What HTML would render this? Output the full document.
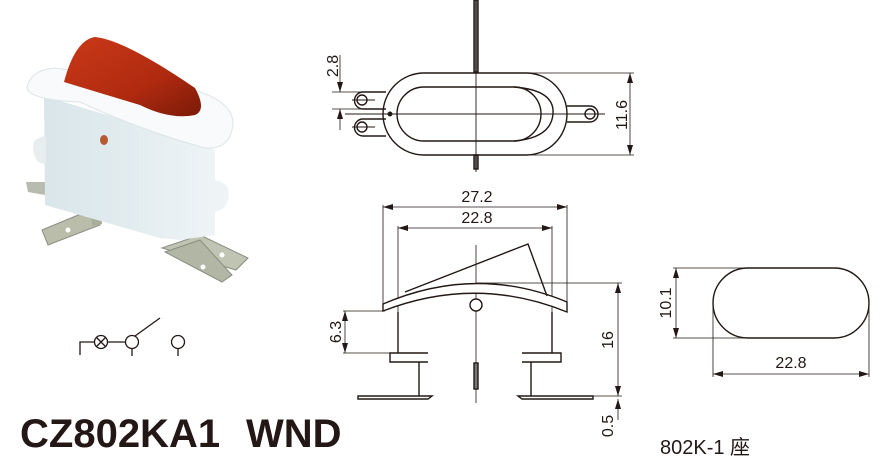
<!DOCTYPE html>
<html><head><meta charset="utf-8"><style>
html,body{margin:0;padding:0;background:#fff;}
svg{display:block;}
text{font-family:"Liberation Sans","Noto Sans CJK SC",sans-serif;fill:#231815;}
</style></head><body>
<svg width="887" height="460" viewBox="0 0 887 460" xmlns="http://www.w3.org/2000/svg">
<defs>
<marker id="a" viewBox="0 0 10 6" refX="10" refY="3" markerWidth="10" markerHeight="6" orient="auto-start-reverse" markerUnits="userSpaceOnUse"><path d="M0,0 L10,3 L0,6 z" fill="#231815"/></marker>
<linearGradient id="body" x1="0" x2="1"><stop offset="0" stop-color="#d9e6ea"/><stop offset="0.5" stop-color="#e2ecef"/><stop offset="1" stop-color="#eef4f6"/></linearGradient>
<linearGradient id="red" x1="0" y1="0" x2="1" y2="1"><stop offset="0" stop-color="#c93a18"/><stop offset="0.6" stop-color="#b02a10"/><stop offset="1" stop-color="#7a1a08"/></linearGradient>
</defs>

<!-- Photo -->
<g>
<path d="M26,182 L45,182 L45,195 L28,192 Z" fill="#b8bcae"/>
<path d="M42,230 L95,208 L100,225 L48,245 Z" fill="#b9bdaa" stroke="#8a8e80" stroke-width="1"/>
<path d="M90,198 L100,196 L102,224 L92,226 Z" fill="#a9ad9c"/>
<path d="M162,248 L200,235 L248,258 L236,270 Z" fill="#c0c4b2" stroke="#8a8e80" stroke-width="1"/>
<path d="M165,252 L200,240 L232,275 L222,282 Z" fill="#b2b6a4" stroke="#8a8e80" stroke-width="1"/>
<circle cx="68" cy="230" r="2.5" fill="#fff"/>
<circle cx="222" cy="255" r="2.5" fill="#fff"/>
<circle cx="203" cy="267" r="2.5" fill="#fff"/>
<path d="M44,96 L140,125 L215,150 L215,235 L180,240 L160,238 L45,205 Z" fill="url(#body)"/>
<path d="M35,140 Q30,150 38,162 L46,165 L46,135 Z" fill="#e8eef0"/>
<path d="M210,180 Q232,180 228,200 Q225,212 210,212 Z" fill="#eef3f5"/>
<path d="M27,88 Q30,70 55,68 L140,80 Q235,90 233,125 Q230,150 205,148 Q140,130 80,102 Q30,100 27,88 Z" fill="#f8fafb" stroke="#dde4e6" stroke-width="1"/>
<path d="M64,82 Q75,40 95,37 Q125,40 195,88 Q207,110 195,115 Q170,120 140,105 Q90,90 64,82 Z" fill="url(#red)"/>
<ellipse cx="104" cy="140" rx="4" ry="5" fill="#b85a30"/>
</g>

<!-- Schematic symbol -->
<g stroke="#231815" stroke-width="1.3" fill="none">
<path d="M80,355 L80,342 L94,342"/>
<circle cx="101" cy="342" r="6.5"/>
<path d="M96.5,337.5 L105.5,346.5 M105.5,337.5 L96.5,346.5"/>
<path d="M107.5,342 L126,342"/>
<circle cx="132" cy="342" r="6.5"/>
<path d="M135,336 L160,318"/>
<path d="M132,348.5 L132,356"/>
<circle cx="178" cy="342" r="6.5"/>
<path d="M178,348.5 L178,356"/>
</g>

<text x="20" y="447" font-size="40" font-weight="bold">CZ802KA1</text>
<text x="246" y="447" font-size="40" font-weight="bold">WND</text>

<!-- Top view -->
<g stroke="#231815" stroke-width="1.4" fill="none">
<rect x="474" y="0" width="4" height="72" fill="#777"/>
<rect x="474" y="155" width="4" height="14" fill="#777"/>
<path d="M476,0 L476,172" stroke-width="0.9"/>
<path d="M345,114 L605,114" stroke-width="0.9"/>
<path d="M424,73 L526,73 A41,41 0 0 1 526,155 L424,155 A41,41 0 0 1 424,73 Z" fill="none"/>
<path d="M424,87 L514,87 A27,27 0 0 1 514,141 L424,141 A27,27 0 0 1 424,87 Z"/>
<path d="M514,87 Q555,90 553,114 Q551,138 514,141"/>
<path d="M386,92 L363,92 A8.5,8.5 0 0 0 363,109 L386,109"/>
<path d="M386,119 L363,119 A8.5,8.5 0 0 0 363,136 L386,136"/>
<circle cx="362" cy="100" r="5"/>
<circle cx="362" cy="127" r="5"/>
<path d="M352,100 L375,100 M352,127 L375,127" stroke-width="0.9"/>
<path d="M567,106 L590,106 A8,8 0 0 1 590,122 L567,122"/>
<circle cx="590" cy="114" r="5"/>
<circle cx="390" cy="114" r="1.8" fill="#231815"/>
<g stroke-width="0.8">
<path d="M332,92 L386,92 M332,109 L386,109"/>
<path d="M340,55 L340,92" marker-end="url(#a)"/>
<path d="M340,130 L340,109" marker-end="url(#a)"/>
<path d="M526,73 L634,73 M526,155 L634,155"/>
<path d="M630,114 L630,73" marker-end="url(#a)"/>
<path d="M630,114 L630,155" marker-end="url(#a)"/>
</g>
</g>
<text transform="translate(338,66) rotate(-90)" font-size="16" text-anchor="middle">2.8</text>
<text transform="translate(627,115) rotate(-90)" font-size="16" text-anchor="middle">11.6</text>

<!-- Side view -->
<g stroke="#231815" stroke-width="1.4" fill="none">
<g stroke-width="0.8">
<path d="M383,205 L383,305 M567,205 L567,305"/>
<path d="M475,207 L383,207" marker-end="url(#a)"/>
<path d="M475,207 L567,207" marker-end="url(#a)"/>
<path d="M398,226 L398,312 M552,226 L552,312"/>
<path d="M475,228 L398,228" marker-end="url(#a)"/>
<path d="M475,228 L552,228" marker-end="url(#a)"/>
<path d="M476,245 L476,403"/>
<path d="M343,311 L385,311 M343,353 L390,353"/>
<path d="M345,332 L345,311" marker-end="url(#a)"/>
<path d="M345,332 L345,353" marker-end="url(#a)"/>
<path d="M476,283 L622,283 M593,396 L622,396"/>
<path d="M618,340 L618,283" marker-end="url(#a)"/>
<path d="M618,340 L618,396" marker-end="url(#a)"/>
<path d="M618,420 L618,399" marker-end="url(#a)"/>
</g>
<path d="M383,304 Q476,264 567,302 L567,312 Q476,275 383,311 Z" fill="#fff"/>
<path d="M405,292 L528,244 L547,296"/>
<circle cx="476" cy="305" r="6" fill="#fff"/>
<path d="M398,312 L398,353 M552,312 L552,353"/>
<path d="M428,353 L390,353 L390,362 L428,362"/>
<path d="M522,353 L561,353 L561,362 L522,362"/>
<path d="M419,362 L419,396 M531,362 L531,396"/>
<path d="M358,396 L432,396 L428,399 L358,399 Z"/>
<path d="M518,396 L593,396 L593,399 L522,399 Z"/>
<rect x="474" y="363" width="4" height="26" fill="#777"/>
</g>
<text x="477" y="202" font-size="16" text-anchor="middle">27.2</text>
<text x="477" y="223" font-size="16" text-anchor="middle">22.8</text>
<text transform="translate(341,332) rotate(-90)" font-size="16" text-anchor="middle">6.3</text>
<text transform="translate(613,340) rotate(-90)" font-size="16" text-anchor="middle">16</text>
<text transform="translate(613,426) rotate(-90)" font-size="16" text-anchor="middle">0.5</text>

<!-- 802K-1 oval -->
<g stroke="#231815" fill="none">
<path d="M748,268 L834,268 A35,35 0 0 1 834,338 L748,338 A35,35 0 0 1 748,268 Z" stroke-width="1.4"/>
<g stroke-width="0.8">
<path d="M673,268 L748,268 M673,338 L748,338"/>
<path d="M676,303 L676,268" marker-end="url(#a)"/>
<path d="M676,303 L676,338" marker-end="url(#a)"/>
<path d="M713,305 L713,377 M869,305 L869,377"/>
<path d="M791,374 L713,374" marker-end="url(#a)"/>
<path d="M791,374 L869,374" marker-end="url(#a)"/>
</g>
</g>
<text transform="translate(671,303) rotate(-90)" font-size="16" text-anchor="middle">10.1</text>
<text x="791" y="368" font-size="16" text-anchor="middle">22.8</text>
<text x="660" y="454" font-size="20">802K-1 座</text>
</svg>
</body></html>
